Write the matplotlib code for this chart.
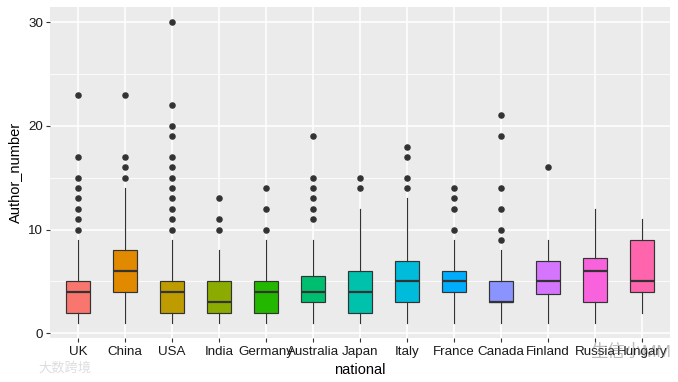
import matplotlib
matplotlib.use("Agg")
import matplotlib.pyplot as plt

plt.rcParams['font.family'] = ['Liberation Sans', 'Noto Sans CJK SC', 'DejaVu Sans']

national = ['UK', 'China', 'USA', 'India', 'Germany', 'Australia', 'Japan',
            'Italy', 'France', 'Canada', 'Finland', 'Russia', 'Hungary']
q1 = [2, 4, 2, 2, 2, 3, 2, 3, 4, 3, 3.75, 3, 4]
med = [4, 6, 4, 3, 4, 4, 4, 5, 5, 3, 5, 6, 5]
q3 = [5, 8, 5, 5, 5, 5.5, 6, 7, 6, 5, 7, 7.25, 9]
whislo = [1, 1, 1, 1, 1, 1, 1, 1, 1, 1, 1, 1, 2]
whishi = [9, 14, 9, 8, 9, 9, 12, 13, 9, 8, 9, 12, 11]
fliers = [
    [10, 11, 12, 13, 14, 15, 17, 23],
    [15, 16, 17, 23],
    [10, 11, 12, 13, 14, 15, 16, 17, 19, 20, 22, 30],
    [10, 11, 13],
    [10, 12, 14],
    [11, 12, 13, 14, 15, 19],
    [14, 15],
    [14, 15, 17, 18],
    [10, 12, 13, 14],
    [9, 10, 12, 14, 19, 21],
    [16],
    [],
    [],
]
colors = ['#F8766D', '#E18A00', '#BE9C00', '#8CAB00', '#24B700', '#00BE70', '#00C1AB',
          '#00BBDA', '#00ACFC', '#8B93FF', '#D575FE', '#F962DD', '#FF65AC']

W, H = 678, 382
fig = plt.figure(figsize=(W / 100, H / 100), dpi=100)
ax = fig.add_axes([50 / W, 1 - 338 / H, 620 / W, 331 / H])
ax.set_facecolor('#EBEBEB')
for s in ax.spines.values():
    s.set_visible(False)

stats = []
for i in range(len(national)):
    stats.append({'med': med[i], 'q1': q1[i], 'q3': q3[i], 'whislo': whislo[i],
                  'whishi': whishi[i], 'fliers': fliers[i], 'label': national[i]})

boxes = ax.bxp(stats, positions=range(1, 14), widths=0.52, patch_artist=True, showcaps=False,
               medianprops=dict(color='#333333', linewidth=1.6, solid_capstyle='butt'),
               whiskerprops=dict(color='#333333', linewidth=0.85),
               boxprops=dict(edgecolor='#333333', linewidth=0.85),
               flierprops=dict(marker='o', markersize=3.7, markerfacecolor='#333333',
                               markeredgecolor='#333333', linestyle='none'),
               zorder=3)
for b, c in zip(boxes['boxes'], colors):
    b.set_facecolor(c)

ax.set_xlim(0.4, 13.6)
ax.set_ylim(-0.45, 31.45)
ax.set_yticks([0, 10, 20, 30])
ax.set_yticks([5, 15, 25], minor=True)
ax.grid(True, which='major', color='white', linewidth=1.1, zorder=0)
ax.grid(True, which='minor', axis='y', color='white', linewidth=0.6, zorder=0)
ax.set_axisbelow(True)
ax.tick_params(axis='x', which='major', length=3, width=0.8, color='#333333',
               labelsize=9.6, labelcolor='#1a1a1a', pad=3)
ax.tick_params(axis='y', which='major', length=3, width=0.8, color='#333333',
               labelsize=9.6, labelcolor='#1a1a1a', pad=2)
ax.tick_params(axis='y', which='minor', length=0)
ax.set_xticks(range(1, 14))
ax.set_xticklabels(national)

fig.text(360 / W, 1 - 370 / H, 'national', ha='center', va='center', fontsize=10.5, color='black')
fig.text(15 / W, 1 - 172 / H, 'Author_number', ha='center', va='center', rotation=90,
         fontsize=10.5, color='black')

# watermarks sitting on the screenshot
fig.text(38 / W, 1 - 368 / H, '大数跨境', ha='left', va='center', fontsize=9.5, color='#dedede')
fig.text(590 / W, 1 - 352 / H, '生信小MM', ha='left', va='center', fontsize=12.5,
         color='#777777', alpha=0.5)

fig.savefig('out.png', dpi=100)
